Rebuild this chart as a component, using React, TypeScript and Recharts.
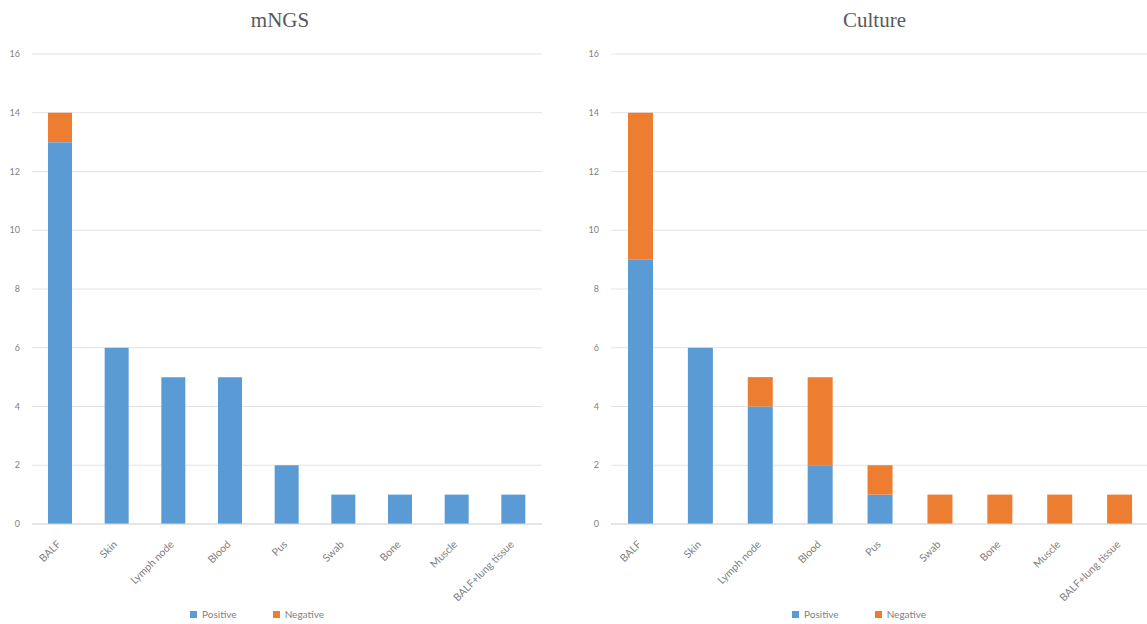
import React from "react";
import { BarChart, Bar, XAxis, YAxis, CartesianGrid, Legend } from "recharts";

const categories = ["BALF", "Skin", "Lymph node", "Blood", "Pus", "Swab", "Bone", "Muscle", "BALF+lung tissue"];
const mngsPositive = [13, 6, 5, 5, 2, 1, 1, 1, 1];
const mngsNegative = [1, 0, 0, 0, 0, 0, 0, 0, 0];
const culturePositive = [9, 6, 4, 2, 1, 0, 0, 0, 0];
const cultureNegative = [5, 0, 1, 3, 1, 1, 1, 1, 1];
const yTicks = [0, 2, 4, 6, 8, 10, 12, 14, 16];

const BLUE = "#5b9bd5";
const ORANGE = "#ed7d31";
const GRAY = "#7f7f7f";

const buildRows = (pos: number[], neg: number[]) =>
  categories.map((name, i) => ({ name, Positive: pos[i], Negative: neg[i] }));

const mngsData = buildRows(mngsPositive, mngsNegative);
const cultureData = buildRows(culturePositive, cultureNegative);

const RotatedTick = (props: any) => {
  const { x, y, payload } = props;
  return (
    <g transform={`translate(${x + 1},${y + 13})`}>
      <text
        textAnchor="end"
        transform="rotate(-45)"
        fontSize={10.5}
        fill={GRAY}
        fontFamily="Lato, 'Open Sans', sans-serif"
      >
        {payload.value}
      </text>
    </g>
  );
};

const LegendContent = ({ shift }: { shift: number }) => (
  <div
    style={{
      display: "flex",
      justifyContent: "center",
      gap: 36,
      fontSize: 10,
      color: GRAY,
      fontFamily: "Lato, 'Open Sans', sans-serif",
      transform: `translateX(${shift}px)`,
    }}
  >
    {[
      ["Positive", BLUE],
      ["Negative", ORANGE],
    ].map(([label, color]) => (
      <span key={label} style={{ display: "flex", alignItems: "center" }}>
        <span style={{ width: 7, height: 7, background: color, marginRight: 5, display: "inline-block" }} />
        {label}
      </span>
    ))}
  </div>
);

type PanelProps = {
  title: string;
  data: any[];
  left: number;
  width: number;
  yWidth: number;
  barSize: number;
  right: number;
  titleShift: number;
  legendShift: number;
};

function Panel({ title, data, left, width, yWidth, barSize, right, titleShift, legendShift }: PanelProps) {
  return (
    <div style={{ position: "absolute", left, top: 0, width, height: 624 }}>
      <div
        style={{
          position: "absolute",
          top: 8,
          left: yWidth + titleShift,
          right: right - titleShift,
          textAlign: "center",
          fontFamily: "'Liberation Serif', 'Times New Roman', serif",
          fontSize: 21,
          color: "#595959",
        }}
      >
        {title}
      </div>
      <BarChart
        width={width}
        height={624}
        data={data}
        margin={{ top: 54, right, left: 0, bottom: 0 }}
        barCategoryGap={0}
      >
        <CartesianGrid vertical={false} stroke="#e3e3e3" />
        <XAxis
          dataKey="name"
          interval={0}
          tick={<RotatedTick />}
          tickLine={false}
          axisLine={{ stroke: "#d9d9d9" }}
          height={88}
        />
        <YAxis
          domain={[0, 16]}
          ticks={yTicks}
          width={yWidth}
          tickLine={false}
          axisLine={false}
          tick={{ fontSize: 9, fill: GRAY, fontFamily: "Lato, 'Open Sans', sans-serif" }}
          tickMargin={6}
        />
        <Bar dataKey="Positive" stackId="a" fill={BLUE} barSize={barSize} isAnimationActive={false} />
        <Bar dataKey="Negative" stackId="a" fill={ORANGE} barSize={barSize} isAnimationActive={false} />
        <Legend verticalAlign="bottom" content={<LegendContent shift={legendShift} />} wrapperStyle={{ bottom: 4 }} />
      </BarChart>
    </div>
  );
}

export default function App() {
  return (
    <div style={{ position: "absolute", left: 0, top: 0, width: 1147, height: 624, background: "#fff", overflow: "hidden" }}>
      <Panel title="mNGS" data={mngsData} left={0} width={560} yWidth={32} barSize={24} right={18} titleShift={-7} legendShift={-14} />
      <Panel title="Culture" data={cultureData} left={580} width={570} yWidth={31} barSize={25} right={0} titleShift={-6} legendShift={-6} />
    </div>
  );
}
